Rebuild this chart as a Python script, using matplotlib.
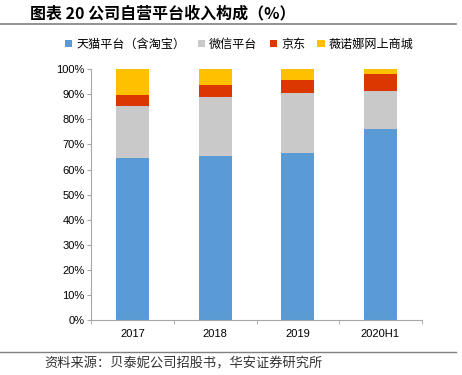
import matplotlib

matplotlib.use("Agg")
import matplotlib.pyplot as plt
import numpy as np
from matplotlib.lines import Line2D
from matplotlib.ticker import FixedLocator, PercentFormatter

plt.rcParams["font.family"] = ["Liberation Sans", "Noto Sans CJK SC", "DejaVu Sans"]

categories = ["2017", "2018", "2019", "2020H1"]
series_names = ["天猫平台（含淘宝）", "微信平台", "京东", "薇诺娜网上商城"]
tmall = [64.6, 65.5, 66.6, 76.2]
wechat = [20.8, 23.4, 23.8, 15.2]
jd = [4.4, 4.9, 5.3, 6.7]
own_mall = [10.2, 6.2, 4.3, 1.9]
colors = ["#5B9BD5", "#C9C9C9", "#DC3700", "#FFC000"]

fig = plt.figure(figsize=(4.62, 3.75), dpi=100)
ax = fig.add_axes([0.1977, 0.1459, 0.7151, 0.6701])

x = np.arange(len(categories))
bottom = np.zeros(len(categories))
handles = []
for name, vals, c in zip(series_names, [tmall, wechat, jd, own_mall], colors):
    h = ax.bar(x, vals, 0.4, bottom=bottom, color=c, label=name, linewidth=0)
    bottom += np.asarray(vals)
    handles.append(h)

ax.set_xlim(-0.5, len(categories) - 0.5)
ax.set_ylim(0, 100)
ax.set_yticks(np.arange(0, 101, 10))
ax.yaxis.set_major_formatter(PercentFormatter(decimals=0))
ax.set_xticks(x)
ax.set_xticklabels(categories)
ax.tick_params(axis="x", length=0, labelsize=8, pad=6)
ax.xaxis.set_minor_locator(FixedLocator(np.arange(-0.5, len(categories), 1.0)))
ax.tick_params(axis="x", which="minor", length=3, color="#A6A6A6")
ax.tick_params(axis="y", length=3, color="#A6A6A6", labelsize=8, pad=2)
for s in ["top", "right"]:
    ax.spines[s].set_visible(False)
for s in ["left", "bottom"]:
    ax.spines[s].set_color("#A6A6A6")
    ax.spines[s].set_linewidth(0.8)

fig.text(0.065, 0.963, "图表 20 公司自营平台收入构成（%）", fontsize=11.5,
         fontweight="bold", family=["Noto Sans CJK SC"], va="center")
fig.add_artist(Line2D([0.0, 0.987], [0.935, 0.935], color="#808080", lw=1.2))

fig.legend(handles=handles, labels=series_names, loc="center", bbox_to_anchor=(0.518, 0.882),
           ncol=4, frameon=False, handlelength=0.6, handleheight=0.6,
           handletextpad=0.35, columnspacing=1.0, prop={"family": ["Noto Sans CJK SC"], "size": 8.7})

fig.add_artist(Line2D([0.0, 0.987], [0.062, 0.062], color="#808080", lw=1.0))
fig.text(0.095, 0.03, "资料来源：贝泰妮公司招股书，华安证券研究所", fontsize=9.5,
         family=["Noto Sans CJK SC"], va="center", color="#333333")

fig.savefig("out.png", dpi=100)
